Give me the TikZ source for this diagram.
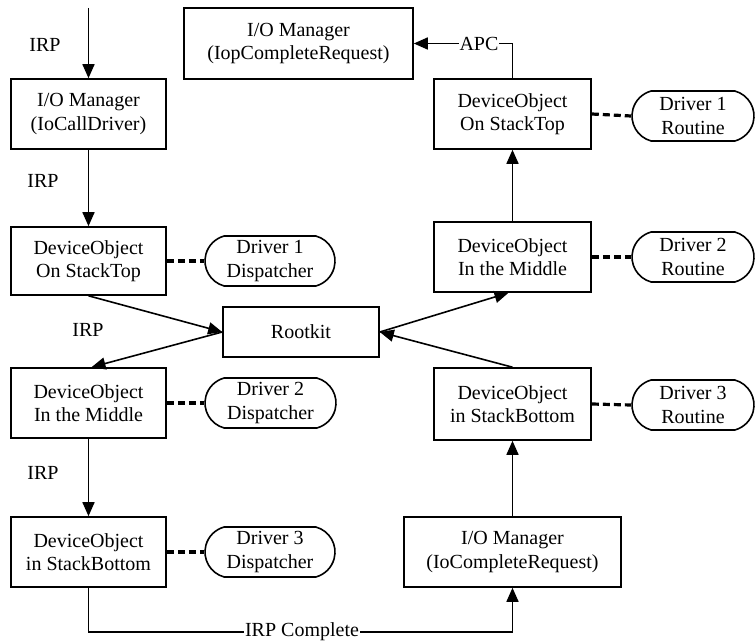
\documentclass[tikz,border=0pt]{standalone}
\usepackage{fontspec}
\setmainfont{Liberation Serif}
\usetikzlibrary{arrows.meta,shapes.misc}
\begin{document}
\begin{tikzpicture}[x=1pt,y=-1pt,
  font=\fontsize{20}{23.5}\selectfont,
  line width=1.6pt,
  box/.style={draw,rectangle,align=center,inner sep=0pt,minimum height=70pt},
  pill/.style={draw,rounded rectangle,rounded rectangle arc length=150,align=center,inner sep=0pt,minimum height=50pt},
  flow/.style={-{Triangle[length=14pt,width=12pt]}},
  dashlink/.style={line width=3.2pt,dash pattern=on 7pt off 4pt},
  lbl/.style={inner sep=1pt},
  onl/.style={fill=white,inner sep=1pt}]
\useasboundingbox (0,0) rectangle (756,642);
% left column
\node[box,minimum width=155pt] (iocall) at (88.5,114) {I/O Manager\\(IoCallDriver)};
\node[box,minimum width=155pt,minimum height=68pt] (ltop) at (88.5,261) {DeviceObject\\On StackTop};
\node[box,minimum width=155pt] (lmid) at (88.5,403) {DeviceObject\\In the Middle};
\node[box,minimum width=155pt] (lbot) at (88.5,552) {DeviceObject\\in StackBottom};
% right column
\node[box,minimum width=229pt,minimum height=71pt] (iop) at (298.5,43.5) {I/O Manager\\(IopCompleteRequest)};
\node[box,minimum width=157pt] (rtop) at (512.5,114) {DeviceObject\\On StackTop};
\node[box,minimum width=157pt] (rmid) at (512.5,257) {DeviceObject\\In the Middle};
\node[box,minimum width=157pt,minimum height=72pt] (rbot) at (512.5,404) {DeviceObject\\in StackBottom};
\node[box,minimum width=217pt] (iocomp) at (512.5,552) {I/O Manager\\(IoCompleteRequest)};
% rootkit
\node[box,minimum width=156pt,minimum height=50pt] (rootkit) at (301,332) {Rootkit};
% pills
\node[pill,minimum width=130pt] (d1d) at (270,261) {Driver 1\\Dispatcher};
\node[pill,minimum width=131pt] (d2d) at (270.5,403) {Driver 2\\Dispatcher};
\node[pill,minimum width=130pt] (d3d) at (270,552) {Driver 3\\Dispatcher};
\node[pill,minimum width=122pt] (d1r) at (693,116) {Driver 1\\Routine};
\node[pill,minimum width=122pt] (d2r) at (693,257) {Driver 2\\Routine};
\node[pill,minimum width=122pt] (d3r) at (693,405) {Driver 3\\Routine};
% dashed links
\draw[dashlink] (ltop.east) -- (d1d.west);
\draw[dashlink] (lmid.east) -- (d2d.west);
\draw[dashlink] (lbot.east) -- (d3d.west);
\draw[dashlink] (rtop.east) -- (d1r.west);
\draw[dashlink] (rmid.east) -- (d2r.west);
\draw[dashlink] (rbot.east) -- (d3r.west);
% flows
\coordinate (start) at (88.5,8);
\draw[flow] (start) -- (iocall.north);
\node[lbl] (irp1) at (45,45) {IRP};
\draw[flow] (iocall.south) -- (ltop.north);
\node[lbl] (irp2) at (43,181) {IRP};
\draw[flow] (ltop.south) -- (rootkit.west);
\draw[flow] (rootkit.west) -- ([xshift=3pt]lmid.north);
\node[lbl] (irp3) at (88,330) {IRP};
\draw[flow] (lmid.south) -- (lbot.north);
\node[lbl] (irp4) at (43,473) {IRP};
\draw[flow] (lbot.south) |- (300,632) -| (iocomp.south);
\node[onl] (irpc) at (302,632) {IRP Complete};
\draw[flow] (iocomp.north) -- (rbot.south);
\draw[flow] (rbot.north) -- (rootkit.east);
\draw[flow] (rootkit.east) -- ([xshift=-4pt]rmid.south);
\draw[flow] (rmid.north) -- (rtop.south);
\draw[flow] (rtop.north) |- (iop.east);
\node[onl] (apc) at (479,43.5) {APC};
\end{tikzpicture}
\end{document}
